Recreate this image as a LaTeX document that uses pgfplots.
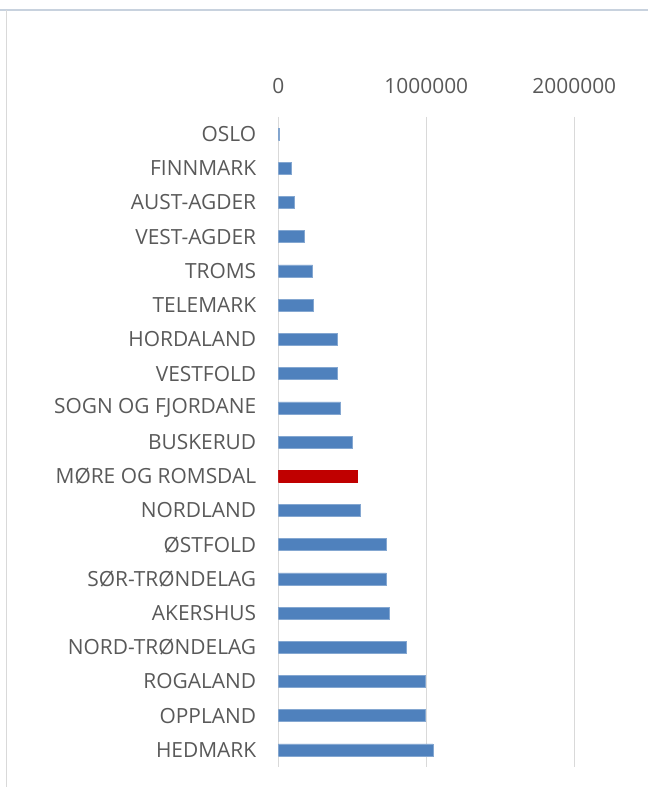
\documentclass[border=0pt]{standalone}
\usepackage{fontspec}
\setmainfont{Open Sans}
\usepackage{pgfplots}
\pgfplotsset{compat=1.18}
\definecolor{barblue}{HTML}{4F81BD}
\definecolor{barred}{HTML}{C00000}
\definecolor{labelgray}{HTML}{595959}
\definecolor{gridgray}{HTML}{D9D9D9}
\definecolor{framegray}{HTML}{C8D2DE}

% population-style values per county, top (OSLO) to bottom (HEDMARK)
\pgfplotstableread{
idx value
0   6000
1   86000
2   107000
3   178000
4   232000
5   237000
6   399000
7   401000
8   421000
9   500000
11  552000
12  728000
13  730000
14  748000
15  865000
16  991000
17  991000
18  1045000
}\bluedata
\pgfplotstableread{
idx value
10  534000
}\reddata

\begin{document}
\fontsize{20.9bp}{24bp}\selectfont
\begin{tikzpicture}[x=1bp,y=1bp]
\path[use as bounding box] (0,0) rectangle (648,787);
% chart frame, cropped on the right and bottom
\draw[framegray, line width=1.2bp] (0,777) -- (648,777);
\draw[gridgray, line width=1.2bp] (6.5,777) -- (6.5,0);
\begin{axis}[
  at={(278.3bp,20bp)}, anchor=south west,
  scale only axis,
  width=296bp, height=650bp,
  xmin=0, xmax=2000000,
  ymin=-0.5, ymax=18.5,
  y dir=reverse,
  xtick={0,1000000,2000000},
  scaled x ticks=false,
  xticklabel style={/pgf/number format/fixed, /pgf/number format/1000 sep={}, text=labelgray},
  /pgf/number format/assume math mode=true,
  xticklabel pos=upper,
  xtick align=outside,
  major tick length=0pt,
  xticklabel shift=16bp,
  ytick={0,...,18},
  yticklabels={OSLO, FINNMARK, AUST-AGDER, VEST-AGDER, TROMS, TELEMARK,
    HORDALAND, VESTFOLD, SOGN OG FJORDANE, BUSKERUD, MØRE OG ROMSDAL,
    NORDLAND, ØSTFOLD, SØR-TRØNDELAG, AKERSHUS, NORD-TRØNDELAG,
    ROGALAND, OPPLAND, HEDMARK},
  yticklabel style={text=labelgray, anchor=east},
  yticklabel shift=15bp,
  ticklabel style={font=\fontsize{20.9bp}{24bp}\selectfont},
  axis line style={draw=none},
  tick style={draw=none},
  xmajorgrids,
  grid style={gridgray, line width=1.5bp},
  xbar,
  bar width=12bp,
]
\addplot[fill=barblue, draw=barblue!70!white, line width=0.5bp, bar shift=0pt]
  table[x=value, y=idx] {\bluedata};
\addplot[fill=barred, draw=barred, line width=0.5bp, bar shift=0pt]
  table[x=value, y=idx] {\reddata};
\end{axis}
\end{tikzpicture}
\end{document}
